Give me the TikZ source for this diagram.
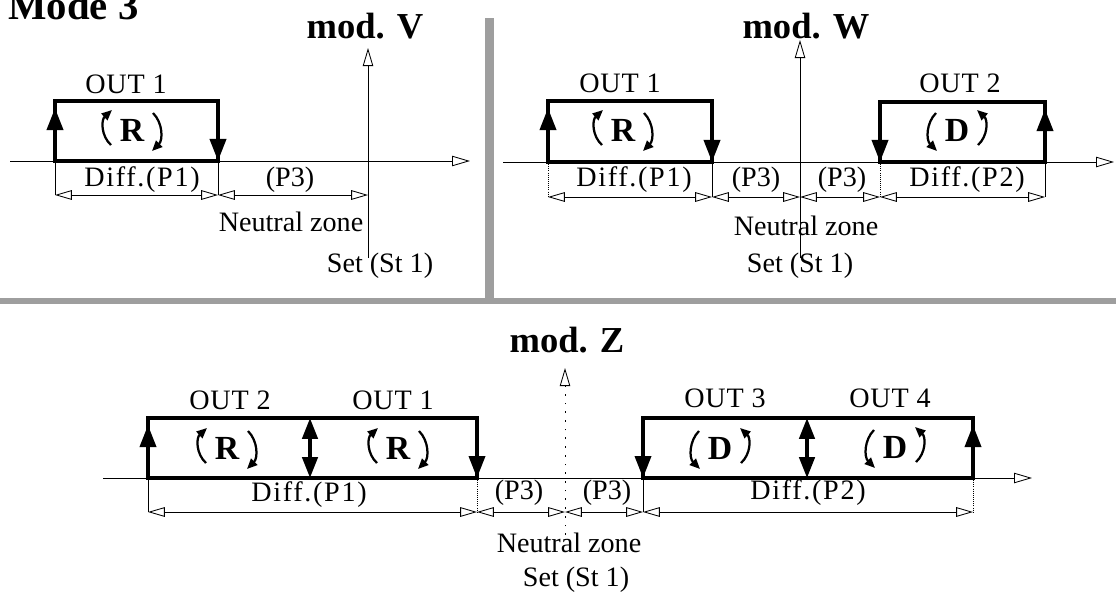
\documentclass[tikz,border=0pt]{standalone}
\usepackage{fontspec}
\setmainfont{Liberation Serif}
\usetikzlibrary{arrows.meta}

\begin{document}
\begin{tikzpicture}[
  x=0.025cm, y=-0.025cm,
  txt/.style={font=\fontsize{20}{24}\selectfont, inner sep=0pt},
  outtxt/.style={font=\fontsize{20}{24}\selectfont\addfontfeature{LetterSpace=3}, inner sep=0pt},
  difftxt/.style={font=\fontsize{20}{24}\selectfont\addfontfeature{LetterSpace=6}, inner sep=0pt},
  ttl/.style={font=\fontsize{26}{30}\selectfont\bfseries, inner sep=0pt, anchor=base},
  outline/.style={line width=2.6pt},
  axis/.style={line width=0.6pt, -{Triangle[open, length=0.45cm, width=0.26cm]}},
  zaxis/.style={axis, dash pattern=on 1.2pt off 5pt},
  dim/.style={line width=0.6pt, {Triangle[open, length=0.42cm, width=0.24cm]}-{Triangle[open, length=0.42cm, width=0.24cm]}},
  ext/.style={line width=0.5pt},
  extd/.style={line width=0.5pt, densely dotted},
  vup/.style={line width=2.6pt, -{Triangle[length=0.55cm, width=0.4cm]}},
  vboth/.style={line width=2.6pt, {Triangle[length=0.52cm, width=0.38cm]}-{Triangle[length=0.52cm, width=0.38cm]}},
  rarc/.style={line width=1.6pt, -{Triangle[length=0.26cm, width=0.22cm]}},
  rlet/.style={font=\fontsize{24}{28}\selectfont\bfseries, inner sep=0pt},
  band/.style={fill=black!38},
  rotR/.pic={
    \node[rlet] (-l) at (0,0) {R};
    \draw[rarc] (-21,15) .. controls (-31,6) and (-31,-10) .. (-20,-20);
    \draw[rarc] (21,-17) .. controls (31,-7) and (31,10) .. (20,21);
  },
  rotD/.pic={
    \node[rlet] (-l) at (0,0) {D};
    \draw[rarc] (-21,-17) .. controls (-31,-7) and (-31,10) .. (-20,21);
    \draw[rarc] (21,15) .. controls (31,6) and (31,-10) .. (20,-20);
  }
]
\useasboundingbox (0,0) rectangle (1116,599);

\fill[band] (485,18) rectangle (494,301);
\fill[band] (0,298) rectangle (1116,304);

\node[ttl, font=\fontsize{29}{34}\selectfont\bfseries, anchor=base west] (mode) at (8,19) {Mode 3};

% mod. V
\node[ttl] (titleV) at (365,38) {mod. V};
\coordinate (vL) at (10,161);
\coordinate (vR) at (470,161);
\coordinate (vB) at (368,258);
\coordinate (vT) at (368,48);
\draw[axis] (vL) -- (vR);
\draw[axis] (vB) -- (vT);
\draw[outline] (55,161) rectangle (218,101);
\draw[vup] (55,161) -- (55,108);
\draw[vup] (218,101) -- (218,161);
\node[outtxt] (outV) at (126,84) {OUT 1};
\pic (rotV) at (132,130) {rotR};
\coordinate (vd1) at (55,195);
\coordinate (vd2) at (218,195);
\coordinate (vd3) at (368,195);
\draw[ext] (55,161) -- (vd1);
\draw[ext] (218,161) -- (vd2);
\draw[dim] (vd1) -- (vd2);
\draw[dim] (vd2) -- (vd3);
\node[difftxt] (diffV) at (142,180) {Diff.(P1)};
\node[txt] (p3V) at (290,180) {(P3)};
\node[txt] (nzV) at (291,222) {Neutral zone};
\node[txt] (setV) at (380,266) {Set (St 1)};

% mod. W
\node[ttl] (titleW) at (806,38) {mod. W};
\coordinate (wL) at (503,162);
\coordinate (wR) at (1114,162);
\coordinate (wB) at (800,258);
\coordinate (wT) at (800,40);
\draw[axis] (wL) -- (wR);
\draw[axis] (wB) -- (wT);
\draw[outline] (548,162) rectangle (712,101);
\draw[outline] (880,162) rectangle (1045,102);
\draw[vup] (548,162) -- (548,108);
\draw[vup] (712,101) -- (712,162);
\draw[vup] (880,102) -- (880,162);
\draw[vup] (1045,162) -- (1045,109);
\node[outtxt] (outW1) at (620,83) {OUT 1};
\node[outtxt] (outW2) at (960,83) {OUT 2};
\pic (rotW1) at (623,130) {rotR};
\pic (rotW2) at (957,130) {rotD};
\coordinate (wd1) at (548,197);
\coordinate (wd2) at (712,197);
\coordinate (wd3) at (800,197);
\coordinate (wd4) at (880,197);
\coordinate (wd5) at (1045,197);
\draw[extd] (548,162) -- (wd1);
\draw[ext] (712,162) -- (wd2);
\draw[extd] (880,162) -- (wd4);
\draw[ext] (1045,162) -- (wd5);
\draw[dim] (wd1) -- (wd2);
\draw[dim] (wd2) -- (wd3);
\draw[dim] (wd3) -- (wd4);
\draw[dim] (wd4) -- (wd5);
\node[difftxt] (diffW1) at (634,180) {Diff.(P1)};
\node[txt] (p3W1) at (756,180) {(P3)};
\node[txt] (p3W2) at (842,180) {(P3)};
\node[difftxt] (diffW2) at (967,180) {Diff.(P2)};
\node[txt] (nzW) at (806,226) {Neutral zone};
\node[txt] (setW) at (800,266) {Set (St 1)};

% mod. Z
\node[ttl] (titleZ) at (567,352) {mod. Z};
\coordinate (zL) at (103,478);
\coordinate (zR) at (1032,478);
\coordinate (zB) at (565,535);
\coordinate (zT) at (565,368);
\draw[axis] (zL) -- (zR);
\draw[zaxis] (zB) -- (zT);
\draw[outline] (148,478) rectangle (477,418);
\draw[outline] (643,478) rectangle (973,418);
\draw[vup] (148,478) -- (148,425);
\draw[vboth] (310,418) -- (310,478);
\draw[vup] (477,418) -- (477,478);
\draw[vup] (643,418) -- (643,478);
\draw[vboth] (807,418) -- (807,478);
\draw[vup] (973,478) -- (973,425);
\node[outtxt] (outZ2) at (230,400) {OUT 2};
\node[outtxt] (outZ1) at (393,400) {OUT 1};
\node[outtxt] (outZ3) at (725,398) {OUT 3};
\node[outtxt] (outZ4) at (890,398) {OUT 4};
\pic (rotZ2) at (227,448) {rotR};
\pic (rotZ1) at (398,448) {rotR};
\pic (rotZ3) at (720,448) {rotD};
\pic (rotZ4) at (895,447) {rotD};
\coordinate (zd1) at (148,512);
\coordinate (zd2) at (477,512);
\coordinate (zd3) at (565,512);
\coordinate (zd4) at (643,512);
\coordinate (zd5) at (973,512);
\draw[ext] (148,478) -- (zd1);
\draw[extd] (477,478) -- (zd2);
\draw[ext] (643,478) -- (zd4);
\draw[extd] (973,478) -- (zd5);
\draw[dim] (zd1) -- (zd2);
\draw[dim] (zd2) -- (zd3);
\draw[dim] (zd3) -- (zd4);
\draw[dim] (zd4) -- (zd5);
\node[difftxt] (diffZ1) at (309,495) {Diff.(P1)};
\node[txt] (p3Z1) at (519,493) {(P3)};
\node[txt] (p3Z2) at (607,493) {(P3)};
\node[difftxt] (diffZ2) at (808,493) {Diff.(P2)};
\node[txt] (nzZ) at (569,543) {Neutral zone};
\node[txt] (setZ) at (576,580) {Set (St 1)};

\end{tikzpicture}
\end{document}
